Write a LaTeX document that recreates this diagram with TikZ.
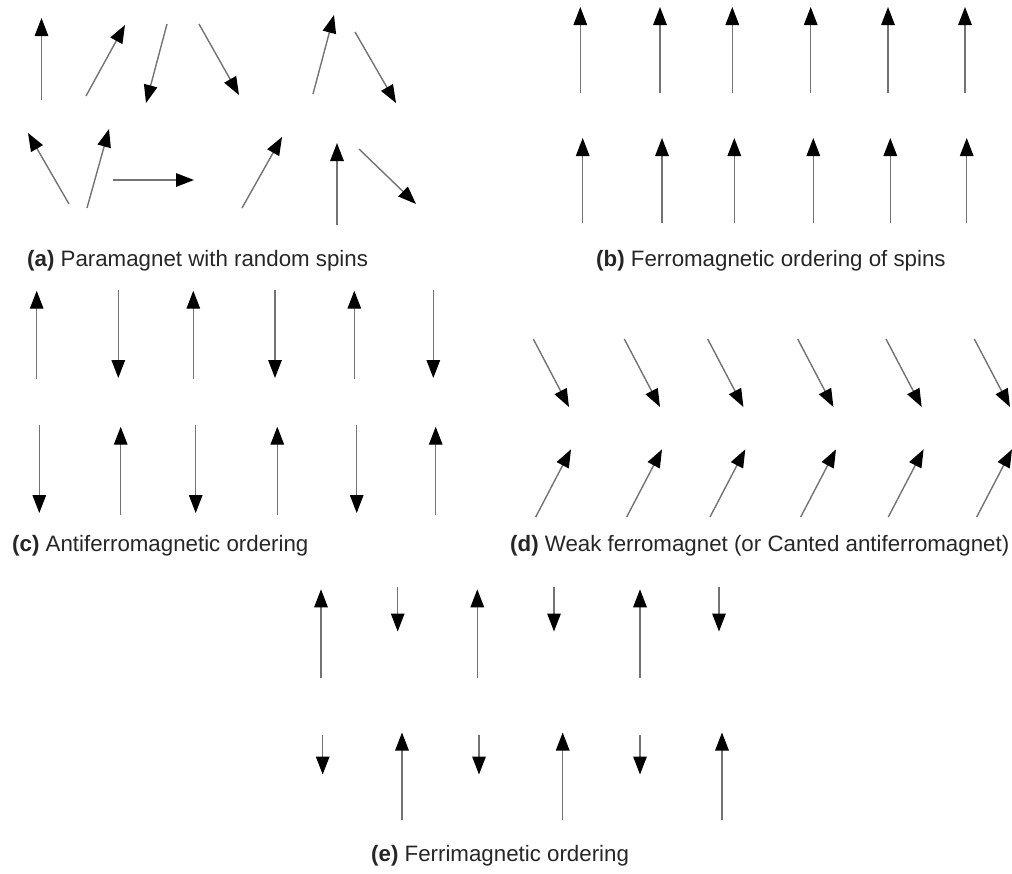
\documentclass[tikz,border=0pt]{standalone}
\usepackage{fontspec}
\setmainfont{Liberation Sans}
\usetikzlibrary{arrows.meta}
\begin{document}
\begin{tikzpicture}[x=1pt,y=-1pt,
  spin/.style={draw=black!55, line width=1.4pt,
    -{Triangle[length=18pt,width=13.5pt,color=black]}},
  caption/.style={anchor=west, inner sep=0pt, text=black!85,
    font=\fontsize{22.3pt}{26pt}\selectfont}]
\useasboundingbox (0,0) rectangle (1012,873);
% (a) paramagnet
\draw[spin] (41.5,100) -- (41.5,18);
\draw[spin] (86,96) -- (125,25);
\draw[spin] (167,24) -- (146,103);
\draw[spin] (199,24) -- (239,95);
\draw[spin] (313,94) -- (334,15);
\draw[spin] (355,32) -- (396,103);
\draw[spin] (69,204) -- (28,133);
\draw[spin] (87,208) -- (109,129);
\draw[spin] (113,180) -- (194,180);
\draw[spin] (242,208) -- (282,137);
\draw[spin] (337,225) -- (337,143);
\draw[spin] (359,149) -- (416,204);
\node[caption] (capa) at (27,261) {\textbf{(a)} Paramagnet with random spins};
% (b) ferromagnet
\foreach \x in {580.3,660,732.3,810.7,888,965}
  \draw[spin] (\x,93) -- (\x,7);
\foreach \x in {582.7,662,734.3,813.3,890.3,966.7}
  \draw[spin] (\x,223) -- (\x,138);
\node[caption] (capb) at (596,261) {\textbf{(b)} Ferromagnetic ordering of spins};
% (c) antiferromagnet
\foreach \x in {36.7,193.3,354.3}
  \draw[spin] (\x,379) -- (\x,290.7);
\foreach \x in {118.3,275,433.3}
  \draw[spin] (\x,290) -- (\x,378);
\foreach \x in {39.3,195.7,356.7}
  \draw[spin] (\x,425) -- (\x,513);
\foreach \x in {120.7,277.3,435.7}
  \draw[spin] (\x,515) -- (\x,426.7);
\node[caption] (capc) at (12,546) {\textbf{(c)} Antiferromagnetic ordering};
% (d) canted
\foreach \x in {533.3,624.3,707.7,797.7,886,974.3}
  \draw[spin] (\x,339) -- ({\x+35.7},407);
\foreach \x in {535.7,626.7,710,800.7,888.3,976.7}
  \draw[spin] (\x,517) -- ({\x+35.3},449.3);
\node[caption] (capd) at (510,546) {\textbf{(d)} Weak ferromagnet (or Canted antiferromagnet)};
% (e) ferrimagnet
\foreach \x in {321,477.3,640}
  \draw[spin] (\x,677.7) -- (\x,589.3);
\foreach \x in {397.7,554,719}
  \draw[spin] (\x,587) -- (\x,631.5);
\foreach \x in {322.7,479,640}
  \draw[spin] (\x,735) -- (\x,774.5);
\foreach \x in {402,562.7,722}
  \draw[spin] (\x,820) -- (\x,732.5);
\node[caption] (cape) at (371,856) {\textbf{(e)} Ferrimagnetic ordering};
\end{tikzpicture}
\end{document}
